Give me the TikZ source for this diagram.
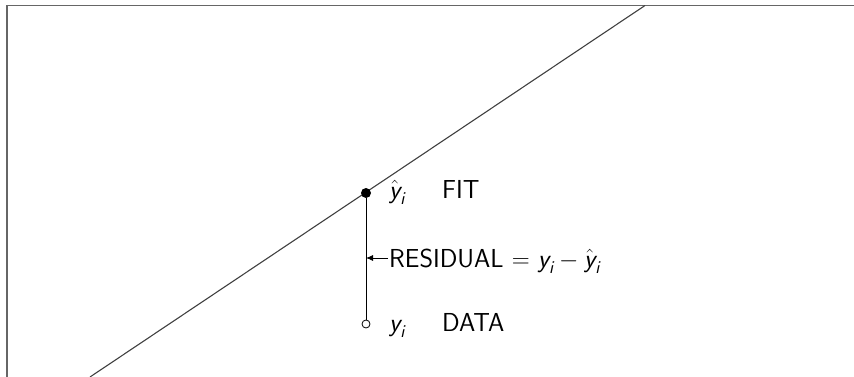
\documentclass[tikz,border=0pt]{standalone}
\usepackage{amsmath}
\usepackage{tikz}
\usetikzlibrary{positioning, arrows.meta}
\renewcommand{\familydefault}{\sfdefault}
\newcommand{\sy}{\textit{y}}
\newcommand{\si}{\textit{i}}

\begin{document}
\begin{tikzpicture}[x=1pt, y=-1pt,
  frame/.style={draw=black!60, line width=1.6pt},
  fitline/.style={draw=black!75, line width=1.1pt},
  dot/.style={circle, fill=black, inner sep=0pt, minimum size=10pt},
  odot/.style={circle, draw, fill=white, inner sep=0pt, minimum size=8pt, line width=0.8pt},
  lbl/.style={inner sep=0pt, anchor=base west, font=\fontsize{26}{30}\selectfont},
  arr/.style={-{Latex[length=7pt, width=6pt]}, line width=0.8pt}]
  \useasboundingbox (0,0) rectangle (854,377);
  % frame and fitted line
  \draw[frame] (7,377) |- (854,5.5);
  \coordinate (lo) at (90,377);
  \coordinate (hi) at (645,5.5);
  \draw[fitline] (lo) -- (hi);
  % points
  \node[dot] (fit) at (366,193) {};
  \node[odot] (data) at (366,324) {};
  \draw[line width=0.9pt] (fit) -- (data);
  % labels
  \node[lbl] (fity) at (389,198) {$\hat{\sy}_{\si}$};
  \node[lbl] (fittxt) at (442,198) {FIT};
  \node[lbl] (datay) at (389,331) {$\sy_{\si}$};
  \node[lbl] (datatxt) at (442,331) {DATA};
  \node[lbl] (resid) at (389,267) {RESIDUAL $=$ $\sy_{\si} - \hat{\sy}_{\si}$};
  \draw[arr] ([xshift=-1pt, yshift=9pt]resid.base west) -- ([yshift=9pt]resid.base west -| fit);
\end{tikzpicture}
\end{document}
